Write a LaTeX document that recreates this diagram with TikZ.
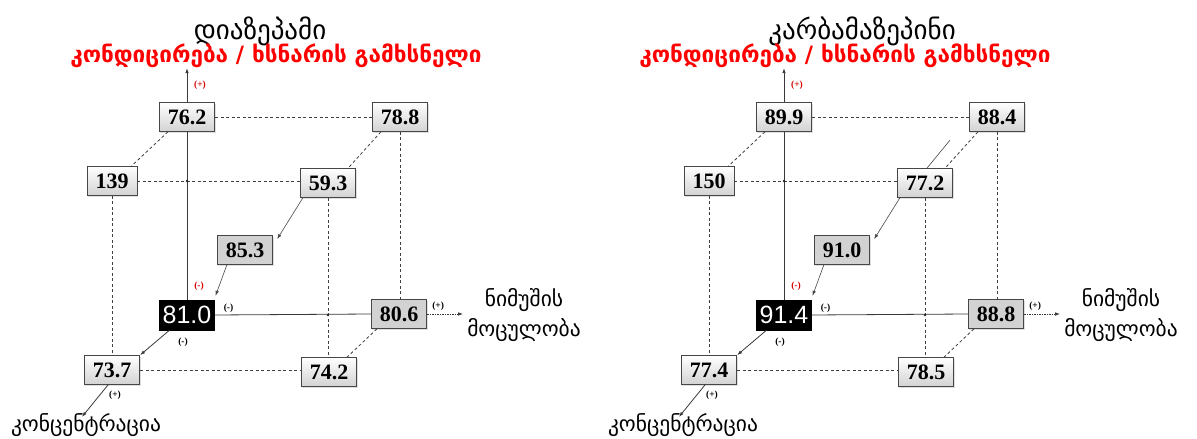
\documentclass[tikz,border=0pt]{standalone}
\usepackage{fontspec}
\setmainfont{Liberation Serif}
\newfontfamily\geo{DejaVu Sans}
\newfontfamily\numsans{Liberation Sans}
\usetikzlibrary{calc,arrows.meta,shadows}

% one factorial cube: nine response values, node names prefixed by \p
\newcommand{\drawcube}[9]{%
  \node[valbox]   (\p a) at (187,117) {#1};
  \node[valbox]   (\p b) at (400,117) {#2};
  \node[valbox]   (\p c) at (112,181) {#3};
  \node[valbox]   (\p d) at (328,183) {#4};
  \node[greybox]  (\p e) at (245,250) {#5};
  \node[blackbox] (\p f) at (187,315) {#6};
  \node[greybox]  (\p g) at (399,314) {#7};
  \node[valbox]   (\p h) at (112,370) {#8};
  \node[valbox]   (\p i) at (329,372) {#9};
  % cube edges
  \draw[edgedash] (\p a) -- (\p b);
  \draw[edgedash] ($(\p a.south west)+(9,0)$) -- ($(\p c.north east)+(-6,0)$);
  \draw[edgedash] ($(\p b.south west)+(9,0)$) -- ($(\p d.north east)+(-8,0)$);
  \draw[edgedash] (\p b.south) -- (\p b.south |- \p g.north);
  \draw[edgedash] (\p c.east) -- (\p c.east -| \p d.west);
  \draw[edgedash] (\p c.south) -- (\p c.south |- \p h.north);
  \draw[edgedash] (\p d.south) -- (\p d.south |- \p i.north);
  \draw[edgedash] ($(\p g.south west)+(6,0)$) -- ($(\p i.north east)+(-10,0)$);
  \draw[edgedash] (\p h.east) -- (\p h.east -| \p i.west);
  % factor axes
  \coordinate (\p up)  at ($(\p a.north)+(0,-34)$);
  \coordinate (\p out) at ($(\p g.east)+(36,0)$);
  \coordinate (\p low) at ($(\p h.south)+(-30,32)$);
  \draw[axis] (\p f.north) -- (\p f.north |- \p a.south);
  \draw[axis,tip] (\p a.north) -- (\p up);
  \draw[axis] (\p f.east) -- (\p g.west);
  \draw[outline,tip] (\p g.east) -- (\p out);
  \draw[axis,tip] ($(\p f.south west)+(10,0)$) -- (\p h.north east);
  \draw[axis,tip] ($(\p h.south)+(-4,0)$) -- (\p low);
  \draw[thinaxis,tip] ($(\p d.south west)+(3,0)$) -- ($(\p e.north east)+(4,4)$);
  \draw[thinaxis,tip] ($(\p e.south west)+(10,0)$) -- ($(\p f.north east)+(1,-4)$);
  \fill[gray!30!black] (\p f |- \p c) circle (1.3);
  \fill[gray!30!black] (\p d.south |- \p f) circle (1.3);
  % signs of the factor levels
  \node[redsign] at ($(\p a.north)+(13,-17)$) {(+)};
  \node[redsign] at ($(\p f.north)+(12,-14)$) {(-)};
  \node[sign] at ($(\p f.east)+(14,-7)$) {(-)};
  \node[sign] at ($(\p f.south)+(-4,12)$) {(-)};
  \node[sign] at ($(\p g.east)+(11,-8)$) {(+)};
  \node[sign] at ($(\p h.south)+(3,10)$) {(+)};
  % factor names
  \node[factor] (\p vol1) at (524,300) {ნიმუშის};
  \node[factor] (\p vol2) at (524,330) {მოცულობა};
  \node[factor] (\p conc) at (86,425) {კონცენტრაცია};
}

\begin{document}
\begin{tikzpicture}[x=1pt,y=-1pt,
  boxbase/.style={draw=gray!55!black, line width=0.8pt, inner xsep=8.5pt,
    minimum height=29pt, text depth=0pt,
    font=\bfseries\fontsize{22}{22}\selectfont,
    drop shadow={opacity=0.25, shadow xshift=1.2pt, shadow yshift=-1.2pt}},
  valbox/.style={boxbase, top color=white, middle color=white, bottom color=gray!35},
  greybox/.style={boxbase, fill=gray!35},
  blackbox/.style={fill=black, draw=black, text=white, inner xsep=3pt,
    minimum height=30pt, font=\numsans\fontsize{25}{25}\selectfont},
  edgedash/.style={draw=gray!50!black, line width=0.8pt, dash pattern=on 3pt off 2.5pt},
  axis/.style={draw=gray!45!black, line width=0.8pt},
  thinaxis/.style={draw=gray!55!black, line width=0.6pt},
  outline/.style={draw=gray!45!black, line width=0.8pt, dash pattern=on 1.5pt off 1pt},
  tip/.style={-{Latex[length=5pt,width=3.5pt]}},
  sign/.style={font=\bfseries\fontsize{9.5}{9.5}\selectfont, inner sep=1pt},
  redsign/.style={sign, text=red!85!black},
  factor/.style={font=\geo\fontsize{21.5}{21.5}\selectfont, inner sep=0pt},
  drugtitle/.style={font=\geo\fontsize{27}{27}\selectfont, inner sep=0pt},
  subtitle/.style={font=\geo\bfseries\fontsize{22.5}{22.5}\selectfont, text=red, inner sep=0pt}]
\useasboundingbox (0,0) rectangle (1197,439);

\node[drugtitle] (t1) at (260,31) {დიაზეპამი};
\node[subtitle]  (s1) at (276,56) {კონდიცირება / ხსნარის გამხსნელი};
\node[drugtitle] (t2) at (862,31) {კარბამაზეპინი};
\node[subtitle]  (s2) at (845,56) {კონდიცირება / ხსნარის გამხსნელი};

\begin{scope}
  \def\p{L}
  \drawcube{76.2}{78.8}{139}{59.3}{85.3}{81.0}{80.6}{73.7}{74.2}
\end{scope}

\begin{scope}[shift={(597,0)}]
  \def\p{R}
  \drawcube{89.9}{88.4}{150}{77.2}{91.0}{91.4}{88.8}{77.4}{78.5}
  % short run of the centre diagonal above 77.2
  \coordinate (Rdiag) at ($(Rd.north)+(25,-28)$);
  \draw[thinaxis] ($(Rd.north)+(2,0)$) -- (Rdiag);
\end{scope}
\end{tikzpicture}
\end{document}
